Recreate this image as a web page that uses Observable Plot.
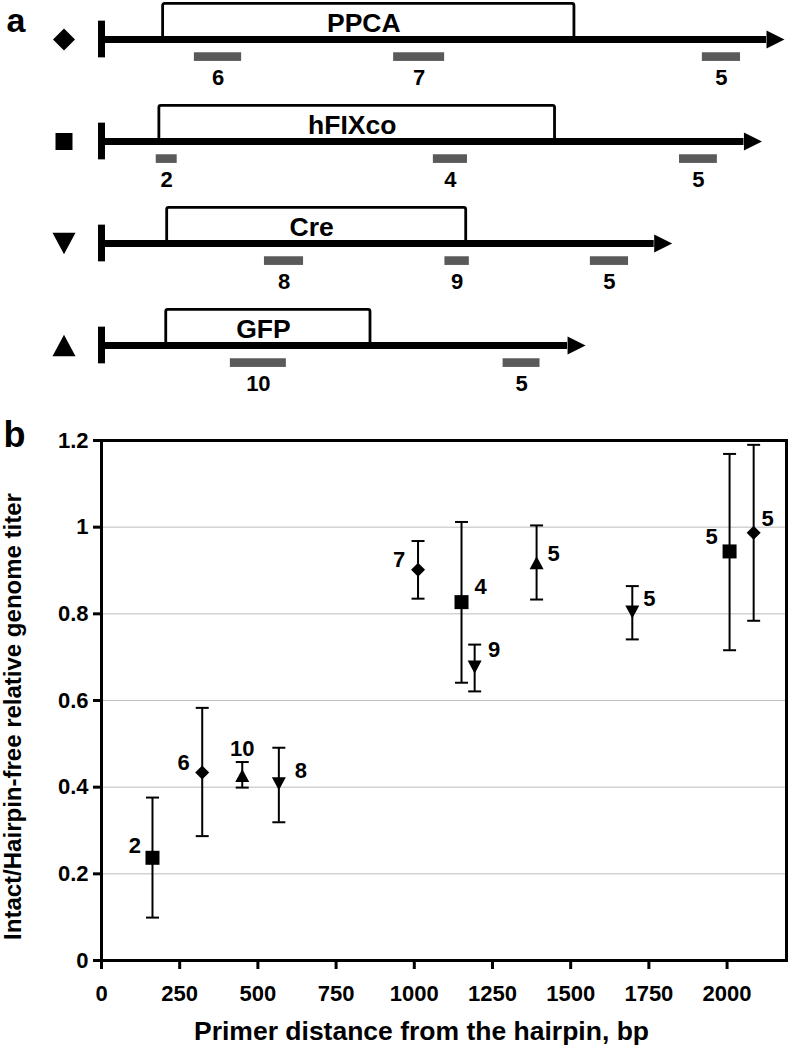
<!DOCTYPE html>
<html><head><meta charset="utf-8">
<script src="https://cdn.jsdelivr.net/npm/d3@7"></script>
<script src="https://cdn.jsdelivr.net/npm/@observablehq/plot@0.6"></script>
<style>html,body{margin:0;padding:0;background:#fff;overflow:hidden}svg{display:block}</style>
</head><body><div id="chart"></div>
<script>
// ---------- Panel a: constructs (schematic positions, bp) ----------
const constructs = ["PPCA", "hFIXco", "Cre", "GFP"];
const constructSymbols = ["diamond", "square", "triangleDown", "triangleUp"];
const orfStart = [197, 185, 210, 207];
const orfEnd = [1512, 1450, 1166, 860];
const shaftEnd = [2126, 2054, 1767, 1490];

// primers (amplicons) per construct
const primerConstruct = ["PPCA","PPCA","PPCA","hFIXco","hFIXco","hFIXco","Cre","Cre","Cre","GFP","GFP"];
const primerName = ["6","7","5","2","4","5","8","9","5","10","5"];
const primerStart = [297, 934, 1921, 175, 1061, 1848, 521, 1098, 1563, 412, 1284];
const primerEnd = [448, 1097, 2043, 242, 1170, 1969, 646, 1176, 1685, 591, 1402];

// ---------- Panel b: measurements ----------
const distance = [322, 1012, 2085, 163, 1151, 2008, 567, 1193, 1697, 450, 1391];
const titer = [0.434, 0.902, 0.987, 0.237, 0.827, 0.944, 0.408, 0.677, 0.804, 0.427, 0.918];
const titerLow = [0.287, 0.835, 0.784, 0.099, 0.641, 0.716, 0.319, 0.621, 0.741, 0.399, 0.833];
const titerHigh = [0.583, 0.968, 1.190, 0.376, 1.012, 1.169, 0.491, 0.729, 0.864, 0.458, 1.004];

const xTicks = [0, 250, 500, 750, 1000, 1250, 1500, 1750, 2000];
const yTicks = [0, 0.2, 0.4, 0.6, 0.8, 1, 1.2];
const xTitle = "Primer distance from the hairpin, bp";
const yTitle = "Intact/Hairpin-free relative genome titer";

// ---------- styling ----------
const FONT = "'Liberation Sans', Arial, Helvetica, sans-serif";
const style = {fontFamily: FONT, fontWeight: "bold", color: "black", background: "white"};
const poly = pts => ({draw(ctx, size) {
  const k = Math.sqrt(size / Math.PI);
  pts.forEach(([x, y], i) => i ? ctx.lineTo(x * k, y * k) : ctx.moveTo(x * k, y * k));
  ctx.closePath();
}});
const SYM = {
  diamond: poly([[0,-1],[1,0],[0,1],[-1,0]]),
  square: poly([[-1,-1],[1,-1],[1,1],[-1,1]]),
  triangleUp: poly([[0,-0.93],[1,0.93],[-1,0.93]]),
  triangleDown: poly([[-1,-0.93],[1,-0.93],[0,0.93]]),
  head: poly([[0,-1],[2,0],[0,1]])
};
const capSym = {draw(ctx, size) { const k = Math.sqrt(size / Math.PI); ctx.moveTo(-k, 0); ctx.lineTo(k, 0); }};
const sizeA = {diamond: 11, square: 8.5, triangleDown: 11.5, triangleUp: 11.5};
const sizeB = {diamond: 7, square: 7, triangleDown: 7, triangleUp: 7};
// label offsets (px) for the numbers in panel b, same order as the data
const labelOffset = [[-18.5,-9.5],[-19,-10],[14,-14],[-17.6,-11.5],[19,-15],[-18,-14],[22,-13],[19.5,-17],[17,-13],[0,-27],[17,-9]];

// ---------- tables ----------
const constructData = constructs.map((c, i) => ({name: c, i, start: orfStart[i], end: orfEnd[i], shaft: shaftEnd[i], sym: constructSymbols[i]}));
const primerData = primerName.map((p, i) => ({name: p, i: constructs.indexOf(primerConstruct[i]), start: primerStart[i], end: primerEnd[i]}));
const points = distance.map((d, i) => ({
  primer: primerName[i], construct: primerConstruct[i], distance: d,
  titer: titer[i], low: titerLow[i], high: titerHigh[i],
  sym: constructSymbols[constructs.indexOf(primerConstruct[i])]
}));
const symNames = Object.keys(sizeA);

// ---------- Panel a ----------
const plotA = Plot.plot({
  width: 792, height: 400, marginLeft: 101, marginRight: 6, marginTop: 39, marginBottom: 55,
  x: {domain: [0, 2190], axis: null},
  y: {domain: [0, 3], reverse: true, axis: null},
  style,
  marks: [
    Plot.rect(constructData, {x1: "start", x2: "end", y1: d => d.i - 0.35, y2: d => d.i, fill: "white", stroke: "black", strokeWidth: 2.8, rx: 2}),
    Plot.ruleY(constructData, {y: "i", x1: 0, x2: "shaft", stroke: "black", strokeWidth: 7}),
    Plot.ruleX(constructData, {x: 0, y1: d => d.i - 0.18, y2: d => d.i + 0.18, stroke: "black", strokeWidth: 7}),
    Plot.dot(constructData, {x: "shaft", y: "i", symbol: SYM.head, r: 9, fill: "black", stroke: "none"}),
    Plot.text(constructData, {x: d => (d.start + d.end) / 2, y: "i", text: "name", fontSize: 26.5, lineAnchor: "bottom", dy: -7.5, dx: -5, fill: "black"}),
    Plot.rect(primerData, {x1: "start", x2: "end", y1: d => d.i + 0.13, y2: d => d.i + 0.215, fill: "#5a5a5a"}),
    Plot.text(primerData, {x: d => (d.start + d.end) / 2, y: "i", text: "name", fontSize: 22, lineAnchor: "middle", dy: 38, fill: "black"}),
    ...symNames.map(s => Plot.dot(constructData.filter(d => d.sym === s), {y: "i", frameAnchor: "left", dx: -37.5, symbol: SYM[s], r: sizeA[s], fill: "black", stroke: "none"})),
    Plot.text(["a"], {frameAnchor: "top-left", text: d => d, fontSize: 34, textAnchor: "start", lineAnchor: "bottom", dx: -95, dy: -8, fill: "black"})
  ]
});

// ---------- Panel b ----------
const plotB = Plot.plot({
  width: 792, height: 651, marginLeft: 101, marginRight: 6, marginTop: 40, marginBottom: 91,
  x: {domain: [0, 2190]},
  y: {domain: [0, 1.2]},
  style,
  marks: [
    Plot.gridY(yTicks.filter(t => t > 0 && t < 1.2), {stroke: "#bdbdbd", strokeOpacity: 1, strokeWidth: 1}),
    Plot.axisY(yTicks, {tickSize: 8, tickPadding: 5, strokeWidth: 3, fontSize: 22, label: null, tickFormat: d => String(d)}),
    Plot.axisX(xTicks, {tickSize: 9, tickPadding: 16, strokeWidth: 3, fontSize: 22, label: null, tickFormat: d => String(d)}),
    Plot.frame({stroke: "black", strokeWidth: 3}),
    Plot.ruleX(points, {x: "distance", y1: "low", y2: "high", stroke: "black", strokeWidth: 2}),
    Plot.dot(points, {x: "distance", y: "low", symbol: capSym, r: 6.5, stroke: "black", strokeWidth: 2, fill: "none"}),
    Plot.dot(points, {x: "distance", y: "high", symbol: capSym, r: 6.5, stroke: "black", strokeWidth: 2, fill: "none"}),
    ...symNames.map(s => Plot.dot(points.filter(d => d.sym === s), {x: "distance", y: "titer", symbol: SYM[s], r: sizeB[s], fill: "black", stroke: "none"})),
    ...points.map((d, i) => Plot.text([d], {x: "distance", y: "titer", text: "primer", dx: labelOffset[i][0], dy: labelOffset[i][1], fontSize: 22, lineAnchor: "middle", fill: "black"})),
    Plot.text([xTitle], {frameAnchor: "bottom", text: d => d, textAnchor: "middle", dy: 71, dx: -22.5, fontSize: 26.5, lineAnchor: "middle", fill: "black"}),
    Plot.text([yTitle], {frameAnchor: "left", text: d => d, textAnchor: "middle", rotate: -90, dx: -88.5, dy: 16, fontSize: 24, lineAnchor: "middle", fill: "black"}),
    Plot.text(["b"], {frameAnchor: "top-left", text: d => d, fontSize: 36, textAnchor: "start", lineAnchor: "bottom", dx: -98, dy: 6, fill: "black"})
  ]
});

document.getElementById("chart").append(plotA, plotB);
</script>
</body></html>
